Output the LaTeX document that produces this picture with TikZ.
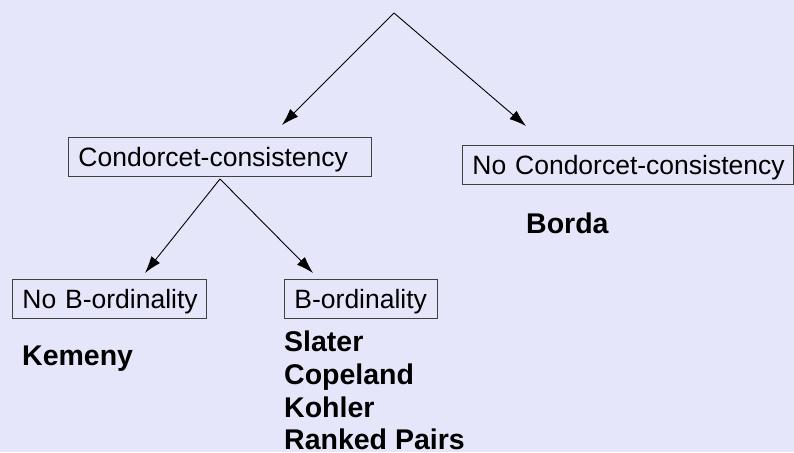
\documentclass[tikz,border=0pt]{standalone}
\usepackage{fontspec}
\setmainfont{Liberation Sans}
\usetikzlibrary{arrows.meta}
\definecolor{bgcol}{RGB}{230,230,250}
\tikzset{
  catbox/.style={draw=black!75, line width=0.9pt, rectangle, anchor=north west,
    inner xsep=10pt, inner ysep=0pt, align=left, text height=19pt, text depth=0pt,
    font=\fontsize{26.5}{30}\selectfont},
  method/.style={anchor=base west, inner sep=0pt, text depth=0pt,
    font=\fontsize{28.5}{33}\selectfont\bfseries},
  branch/.style={line width=0.9pt, -{Latex[length=17pt,width=11pt]}}
}
\begin{document}
\begin{tikzpicture}[x=1pt,y=-1pt]
  \fill[bgcol] (0,0) rectangle (794,452);
  \useasboundingbox (0,0) rectangle (794,452);

  % category boxes (text kept on one line)
  \node[catbox, minimum width=303pt, minimum height=39pt, text width=283pt] (cc) at (68,137) {\mbox{Condorcet-consistency}};
  \node[catbox, minimum width=331pt, minimum height=39pt, text width=311pt] (ncc) at (462,145) {\mbox{No Condorcet-consistency}};
  \node[catbox, minimum width=194pt, minimum height=39pt, text width=174pt] (nbo) at (12,279) {\mbox{No B-ordinality}};
  \node[catbox, minimum width=153pt, minimum height=39pt, text width=133pt] (bo) at (284,279) {\mbox{B-ordinality}};

  % voting rules
  \node[method] (borda) at (526,233) {Borda};
  \node[method] (kemeny) at (22,365) {Kemeny};
  \node[method] (slater) at (284,351.5) {Slater};
  \node[method] (copeland) at (284,384.5) {Copeland};
  \node[method] (kohler) at (284,417) {Kohler};
  \node[method] (ranked) at (284,449.5) {Ranked Pairs};

  % branching points and arrow ends
  \coordinate (root) at (394,13);
  \coordinate (rootL) at (282,125);
  \coordinate (rootR) at (526,126);
  \coordinate (ccfork) at (220,179);
  \coordinate (ccL) at (145,273);
  \coordinate (ccR) at (313,273);

  \draw[branch] (root) -- (rootL);
  \draw[branch] (root) -- (rootR);
  \draw[branch] (ccfork) -- (ccL);
  \draw[branch] (ccfork) -- (ccR);
\end{tikzpicture}
\end{document}
